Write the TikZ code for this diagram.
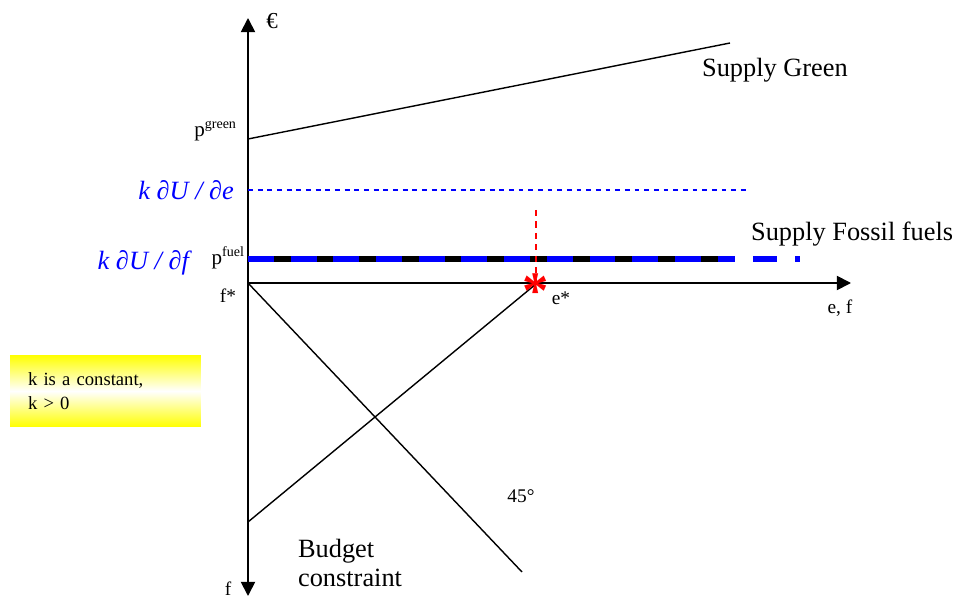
\documentclass[tikz,border=0pt]{standalone}
\usepackage{fontspec}
\setmainfont{Liberation Serif}
\usetikzlibrary{arrows.meta}
\definecolor{ublue}{HTML}{0000FF}
\definecolor{ured}{HTML}{FF0000}
\definecolor{noteyellow}{HTML}{FFFF00}

\tikzset{
  axis/.style={line width=1pt, -{Triangle[length=8pt, width=8pt]}},
  curve/.style={line width=0.8pt},
  lbl/.style={inner sep=1pt, font=\fontsize{15}{17}\selectfont},
  small/.style={inner sep=1pt, font=\fontsize{11}{13}\selectfont},
  bluelbl/.style={inner sep=1pt, text=ublue, font=\fontsize{15}{17}\selectfont\itshape},
  notebox/.style={top color=noteyellow, bottom color=noteyellow, middle color=white,
    minimum width=3.82cm, minimum height=1.44cm, inner xsep=0.36cm,
    text width=3.1cm, align=left, font=\fontsize{10.6}{13.5}\selectfont}
}

\begin{document}
\begin{tikzpicture}[x=0.02cm, y=-0.02cm]
  \useasboundingbox (0,0) rectangle (958,598);

  % axes
  \coordinate (O) at (248,283);
  \coordinate (ytop) at (248,18);
  \coordinate (ybot) at (248,596);
  \coordinate (xend) at (851,283);
  \draw[axis] (O) -- (ytop);
  \draw[axis] (O) -- (ybot);
  \draw[axis] (O) -- (xend);
  \node[small, font=\fontsize{13}{15}\selectfont] (euro) at (272,21) {€};
  \node[small] (fbot) at (228,589) {f};
  \node[small] (ef) at (840,308) {e, f};

  % supply green
  \coordinate (pg) at (248,139);
  \coordinate (sg) at (730,43);
  \draw[curve] (pg) -- (sg);
  \node[lbl, anchor=west] (sglbl) at (700,70) {Supply Green};
  \node[small, font=\fontsize{12}{14}\selectfont, anchor=east] (pglbl) at (239,131) {p\textsuperscript{\fontsize{8}{9}\selectfont green}};

  % marginal utility of e
  \coordinate (mue) at (248,190);
  \coordinate (muend) at (748,190);
  \draw[ublue, line width=0.6pt, dash pattern=on 2.8pt off 2.7pt] (mue) -- (muend);
  \node[bluelbl, anchor=east] (muelbl) at (236,190) {k ∂U / ∂e};

  % supply fossil fuels
  \coordinate (pf) at (248,259);
  \coordinate (pfend) at (730,259);
  \coordinate (pfdot) at (800,259);
  \draw[line width=3.3pt] (pf) -- (pfend);
  \draw[ublue, line width=3.3pt, dash pattern=on 14.7pt off 9.6pt] (pf) -- (pfend);
  \draw[ublue, line width=3.3pt, dash pattern=on 3pt off 10pt on 13.6pt off 10.4pt on 2.8pt] (pfend) -- (pfdot);
  \node[lbl, anchor=west] (sflbl) at (749,234) {Supply Fossil fuels};
  \node[small, font=\fontsize{12}{14}\selectfont, anchor=east] (pflbl) at (247,258) {p\textsuperscript{\fontsize{8}{9}\selectfont fuel}};
  \node[bluelbl, anchor=east] (muflbl) at (191,263) {k ∂U / ∂f};
  \node[small] (fstar) at (228,296) {f*};

  % budget constraint and 45 degree line
  \coordinate (bc) at (522,572);
  \coordinate (diag) at (248,522);
  \coordinate (E) at (536,284);
  \draw[curve] (O) -- (bc);
  \draw[curve] (diag) -- (E);
  \node[small] (deg) at (521,496) {45°};
  \node[lbl, anchor=west, align=left] (bclbl) at (296,563) {Budget\\constraint};

  % optimum e*
  \coordinate (etop) at (536,210);
  \draw[ured, line width=0.8pt, dash pattern=on 3.5pt off 3pt] (etop) -- (E);
  \node[text=ured, font=\fontsize{30}{30}\selectfont\bfseries, inner sep=0pt] (estar) at ([yshift=-4pt]E) {*};
  \node[small] (elbl) at (561,298) {e*};

  % note
  \node[notebox] (note) at (105.5,391) {k is a constant,\\k > 0};
\end{tikzpicture}
\end{document}
